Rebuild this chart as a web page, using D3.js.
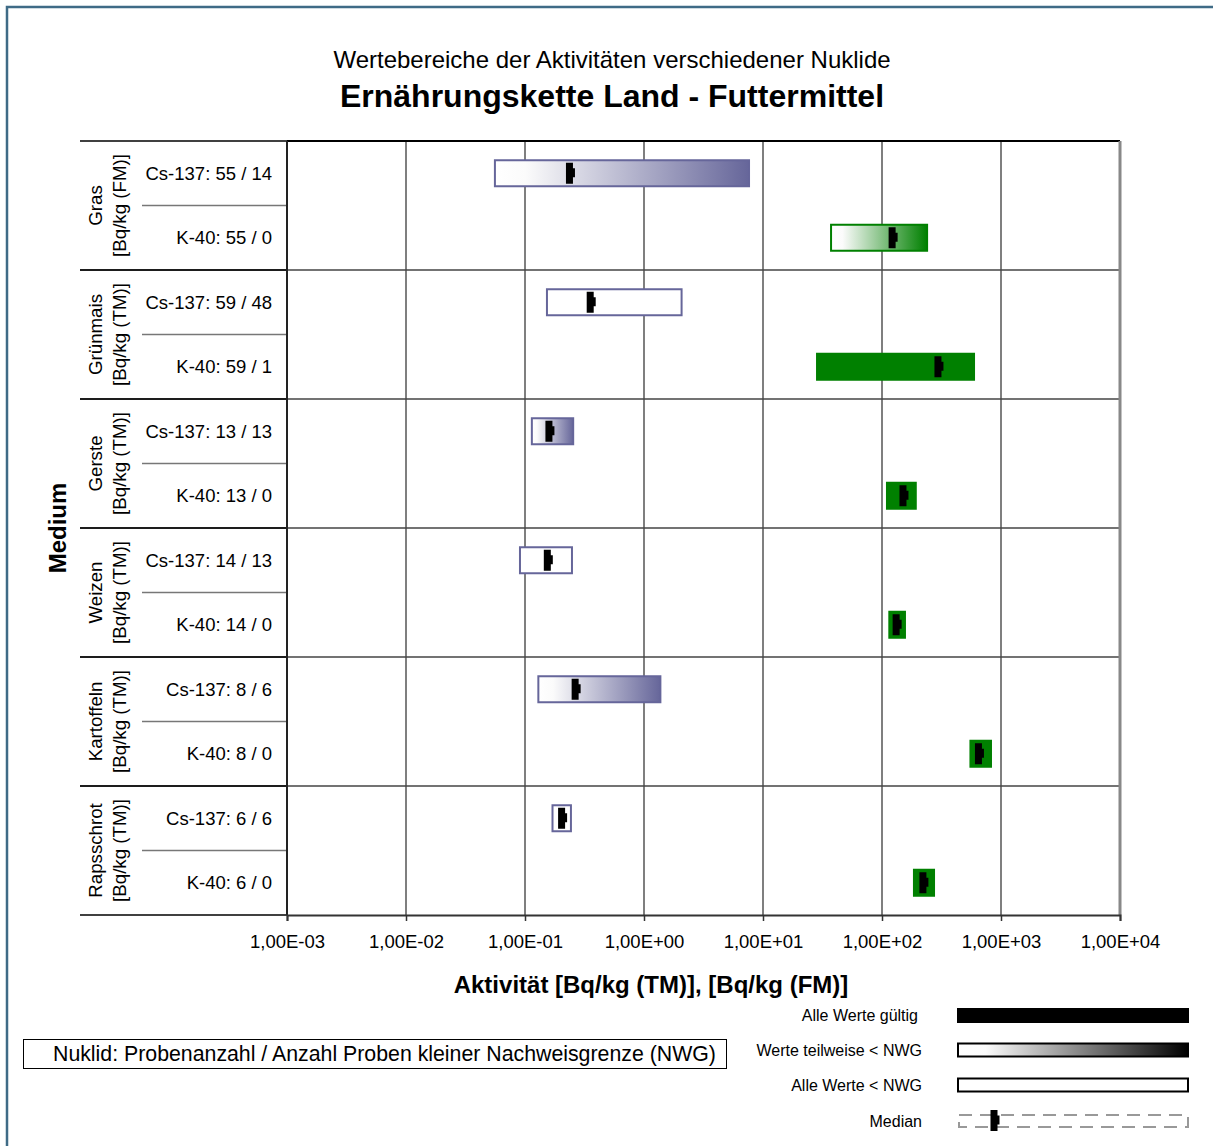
<!DOCTYPE html>
<html>
<head>
<meta charset="utf-8">
<script src="https://cdn.jsdelivr.net/npm/d3@7"></script>
<style>
  html, body { margin: 0; padding: 0; background: #fff; }
  svg { display: block; font-family: "Liberation Sans", Arial, sans-serif; }
</style>
</head>
<body>
<svg id="chart" width="1213" height="1146"></svg>
<script>
// Groups (media) with their units
const groups = ["Gras", "Grünmais", "Gerste", "Weizen", "Kartoffeln", "Rapsschrot"];
const units = ["[Bq/kg (FM)]", "[Bq/kg (TM)]", "[Bq/kg (TM)]", "[Bq/kg (TM)]", "[Bq/kg (TM)]", "[Bq/kg (TM)]"];

// One row per nuclide and medium
const rowLabels = [
  "Cs-137: 55 / 14", "K-40: 55 / 0",
  "Cs-137: 59 / 48", "K-40: 59 / 1",
  "Cs-137: 13 / 13", "K-40: 13 / 0",
  "Cs-137: 14 / 13", "K-40: 14 / 0",
  "Cs-137: 8 / 6",   "K-40: 8 / 0",
  "Cs-137: 6 / 6",   "K-40: 6 / 0"
];
const nuclides = ["Cs", "K", "Cs", "K", "Cs", "K", "Cs", "K", "Cs", "K", "Cs", "K"];
// "solid": all values valid, "partial": some values < NWG, "empty": all values < NWG
const fillTypes = ["partial", "partial", "empty", "solid", "partial", "solid",
                   "empty", "solid", "partial", "solid", "empty", "solid"];
const minValues = [0.0548, 36.6, 0.150, 27.9, 0.112, 108, 0.089, 113, 0.127, 543, 0.167, 182];
const maxValues = [7.78, 244, 2.11, 605, 0.259, 196, 0.253, 159, 1.40, 840, 0.248, 279];
const medians   = [0.241, 124, 0.36, 301, 0.162, 153, 0.157, 134, 0.269, 659, 0.207, 225];

const tickValues = [1e-3, 1e-2, 1e-1, 1e0, 1e1, 1e2, 1e3, 1e4];
const tickLabels = ["1,00E-03", "1,00E-02", "1,00E-01", "1,00E+00", "1,00E+01", "1,00E+02", "1,00E+03", "1,00E+04"];

const legendLabels = ["Alle Werte gültig", "Werte teilweise < NWG", "Alle Werte < NWG", "Median"];

const csColor = "#66669a";
const kColor = "#008000";

const svg = d3.select("#chart");
const plot = { left: 287, right: 1120, top: 141, bottom: 915 };

const x = d3.scaleLog().domain([1e-3, 1e4]).range([plot.left, plot.right]);
const rowIdx = d3.range(rowLabels.length);
const y = d3.scaleBand().domain(rowIdx).range([plot.top, plot.bottom]).padding(0);
const groupY = d3.scaleBand().domain(d3.range(groups.length)).range([plot.top, plot.bottom]);

// Gradients
const defs = svg.append("defs");
function gradient(id, c) {
  const g = defs.append("linearGradient").attr("id", id).attr("x1", "0").attr("x2", "1").attr("y1", "0").attr("y2", "0");
  g.append("stop").attr("offset", "0").attr("stop-color", "#ffffff");
  g.append("stop").attr("offset", "0.12").attr("stop-color", "#fbfbfb");
  g.append("stop").attr("offset", "1").attr("stop-color", c);
}
gradient("gradCs", csColor);
gradient("gradK", kColor);
gradient("gradLegend", "#000000");

// Outer frame
svg.append("path").attr("d", "M7,1146 V7 H1213")
  .attr("fill", "none").attr("stroke", "#3f6b86").attr("stroke-width", 2.5);

// Titles
svg.append("text").attr("x", 612).attr("y", 68).attr("text-anchor", "middle")
  .attr("font-size", 24).text("Wertebereiche der Aktivitäten verschiedener Nuklide");
svg.append("text").attr("x", 612).attr("y", 107).attr("text-anchor", "middle")
  .attr("font-size", 32).attr("font-weight", "bold").text("Ernährungskette Land - Futtermittel");

// Vertical grid lines at decades
svg.append("g").selectAll("line").data(tickValues.slice(1, -1)).join("line")
  .attr("x1", d => x(d)).attr("x2", d => x(d))
  .attr("y1", plot.top).attr("y2", plot.bottom)
  .attr("stroke", "#555").attr("stroke-width", 1.5);

// Group separator lines across the plot
svg.append("g").selectAll("line").data(d3.range(1, groups.length)).join("line")
  .attr("x1", 80).attr("x2", plot.right)
  .attr("y1", d => groupY(d)).attr("y2", d => groupY(d))
  .attr("stroke", "#444").attr("stroke-width", 1.5);
// black part in the label area
svg.append("g").selectAll("line").data(d3.range(0, groups.length + 1)).join("line")
  .attr("x1", 80).attr("x2", plot.left)
  .attr("y1", d => d === groups.length ? plot.bottom : groupY(d))
  .attr("y2", d => d === groups.length ? plot.bottom : groupY(d))
  .attr("stroke", "#000").attr("stroke-width", 1.5);

// Sub-row separators (between nuclides) in the label area
svg.append("g").selectAll("line").data(d3.range(groups.length)).join("line")
  .attr("x1", 142).attr("x2", plot.left)
  .attr("y1", d => y(d * 2 + 1)).attr("y2", d => y(d * 2 + 1))
  .attr("stroke", "#777").attr("stroke-width", 1.5);

// Plot border
svg.append("line").attr("x1", plot.left).attr("x2", plot.right).attr("y1", plot.top).attr("y2", plot.top)
  .attr("stroke", "#000").attr("stroke-width", 2);
svg.append("line").attr("x1", plot.right).attr("x2", plot.right).attr("y1", plot.top).attr("y2", plot.bottom)
  .attr("stroke", "#888").attr("stroke-width", 3);
svg.append("line").attr("x1", plot.left).attr("x2", plot.left).attr("y1", plot.top).attr("y2", plot.bottom)
  .attr("stroke", "#222").attr("stroke-width", 2);

// X axis
const xAxis = d3.axisBottom(x).tickValues(tickValues)
  .tickFormat((d, i) => tickLabels[i]).tickSize(6).tickPadding(14);
const ax = svg.append("g").attr("transform", `translate(0,${plot.bottom})`).call(xAxis);
ax.select(".domain").attr("stroke", "#333").attr("stroke-width", 2);
ax.selectAll(".tick line").attr("stroke", "#333").attr("stroke-width", 1.5);
ax.selectAll(".tick text").attr("font-size", 18.5).attr("fill", "#000")
  .attr("font-family", "'Liberation Sans', Arial, sans-serif");

// Bars
const barH = 26;
const bars = svg.append("g");
rowIdx.forEach(i => {
  const cy = y(i) + y.bandwidth() / 2;
  const x0 = x(minValues[i]), x1 = x(maxValues[i]);
  const col = nuclides[i] === "Cs" ? csColor : kColor;
  let fill, stroke, sw;
  if (fillTypes[i] === "solid") { fill = col; stroke = "none"; sw = 0; }
  else if (fillTypes[i] === "partial") { fill = nuclides[i] === "Cs" ? "url(#gradCs)" : "url(#gradK)"; stroke = col; sw = 2; }
  else { fill = "#fff"; stroke = col; sw = 2; }
  const h = fillTypes[i] === "solid" ? barH + 2 : barH;
  bars.append("rect")
    .attr("x", fillTypes[i] === "solid" ? x0 : x0 + 1)
    .attr("width", fillTypes[i] === "solid" ? x1 - x0 : x1 - x0 - 2)
    .attr("y", cy - h / 2).attr("height", h)
    .attr("fill", fill).attr("stroke", stroke).attr("stroke-width", sw);
});

// Median markers
function medianPath(mx, cy) {
  return `M${mx - 4.5},${cy - 10.5} H${mx + 2.5} V${cy - 5} H${mx + 4.5} V${cy + 4} H${mx + 2.5} V${cy + 10.5} H${mx - 4.5} Z`;
}
svg.append("g").selectAll("path").data(rowIdx).join("path")
  .attr("d", i => medianPath(x(medians[i]), y(i) + y.bandwidth() / 2))
  .attr("fill", "#000");

// Row labels
svg.append("g").selectAll("text").data(rowIdx).join("text")
  .attr("x", 272).attr("y", i => y(i) + y.bandwidth() / 2 + 6.5)
  .attr("text-anchor", "end").attr("font-size", 18.5).text(i => rowLabels[i]);

// Group labels (rotated, two lines)
const gl = svg.append("g");
groups.forEach((g, k) => {
  const cy = groupY(k) + groupY.bandwidth() / 2;
  gl.append("text").attr("transform", `translate(102,${cy}) rotate(-90)`)
    .attr("text-anchor", "middle").attr("font-size", 18.7).text(g);
  gl.append("text").attr("transform", `translate(126,${cy}) rotate(-90)`)
    .attr("text-anchor", "middle").attr("font-size", 18.7).text(units[k]);
});

// Axis titles
svg.append("text").attr("transform", `translate(66,${(plot.top + plot.bottom) / 2}) rotate(-90)`)
  .attr("text-anchor", "middle").attr("font-size", 24).attr("font-weight", "bold").text("Medium");
svg.append("text").attr("x", 651).attr("y", 993).attr("text-anchor", "middle")
  .attr("font-size", 24).attr("font-weight", "bold").text("Aktivität [Bq/kg (TM)], [Bq/kg (FM)]");

// Explanation box
svg.append("rect").attr("x", 23.5).attr("y", 1039.5).attr("width", 703).attr("height", 29)
  .attr("fill", "#fff").attr("stroke", "#000").attr("stroke-width", 1);
svg.append("text").attr("x", 53).attr("y", 1061).attr("font-size", 21.3)
  .text("Nuklid: Probenanzahl / Anzahl Proben kleiner Nachweisgrenze (NWG)");

// Legend
const legY = [1015, 1050, 1085, 1121];
const lg = svg.append("g");
legendLabels.forEach((t, k) => {
  lg.append("text").attr("x", k === 0 ? 918 : 922).attr("y", legY[k] + 5.5).attr("text-anchor", "end")
    .attr("font-size", 16).text(t);
});
lg.append("rect").attr("x", 957).attr("y", legY[0] - 7).attr("width", 232).attr("height", 15).attr("fill", "#000");
lg.append("rect").attr("x", 958).attr("y", legY[1] - 6.5).attr("width", 230).attr("height", 13)
  .attr("fill", "url(#gradLegend)").attr("stroke", "#000").attr("stroke-width", 2);
lg.append("rect").attr("x", 958).attr("y", legY[2] - 6.5).attr("width", 230).attr("height", 13)
  .attr("fill", "#fff").attr("stroke", "#000").attr("stroke-width", 2);
lg.append("rect").attr("x", 959).attr("y", legY[3] - 6).attr("width", 229).attr("height", 12)
  .attr("fill", "none").attr("stroke", "#999").attr("stroke-width", 2).attr("stroke-dasharray", "13,8");
lg.append("path").attr("d", medianPath(995, legY[3] - 0.5)).attr("fill", "#000");
</script>
</body>
</html>
